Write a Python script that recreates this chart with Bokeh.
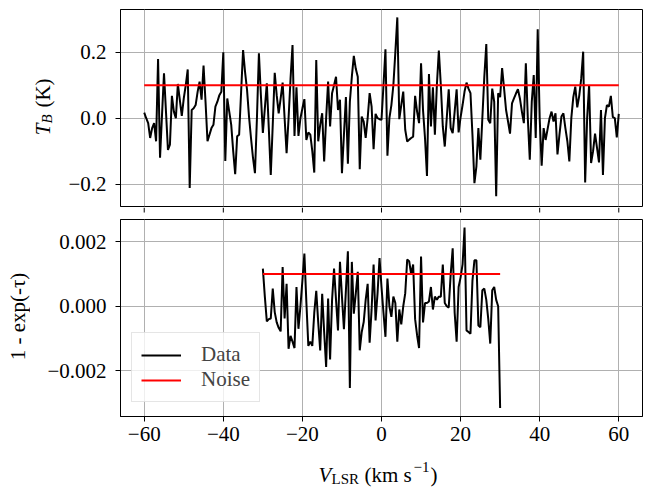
import numpy as np
from bokeh.plotting import figure
from bokeh.layouts import column, row
from bokeh.models import (Range1d, FixedTicker, Label, Legend, LegendItem,
                          CustomJSTickFormatter)
from bokeh.embed import file_html
from bokeh.resources import INLINE

FONT = "Liberation Serif"
FS = "21px"
FS_SMALL = "15px"

# ---------------- data ----------------
tb_values = [
    0.017, 0.0, -0.015, -0.06, -0.03, -0.015, -0.07, 0.18, -0.12, 0.01,
    0.136, 0.02, -0.096, -0.08, 0.068, 0.02, 0.0, 0.104, 0.056, 0.007,
    0.06, 0.1, 0.148, -0.212, 0.025, 0.03, 0.04, 0.08, 0.111, 0.056,
    0.16, 0.05, -0.07, -0.05, -0.03, -0.02, 0.035, 0.05, 0.07, 0.08,
    0.2, -0.13, 0.06, 0.02, -0.02, -0.1, -0.17, -0.055, -0.05, 0.08,
    0.207, 0.14, 0.086, 0.005, -0.06, -0.12, -0.167, 0.0, 0.197, 0.07,
    -0.045, 0.03, 0.106, -0.03, -0.172, -0.02, 0.138, 0.07, 0.015, 0.06,
    0.108, 0.0, -0.106, 0.0, 0.12, 0.222, -0.054, 0.094, -0.054, 0.0,
    0.03, 0.058, -0.066, -0.043, -0.05, -0.1, -0.165, 0.177, -0.07, -0.02,
    0.015, -0.131, 0.0, 0.111, -0.025, 0.076, 0.1, 0.126, 0.025, 0.056,
    -0.167, -0.05, 0.064, -0.138, 0.05, 0.126, 0.189, 0.15, 0.126, -0.155,
    0.005, -0.01, -0.06, 0.0, 0.076, 0.035, -0.094, 0.013, 0.0, -0.003,
    -0.005, 0.1, 0.209, -0.114, 0.0, 0.04, 0.1, 0.2, 0.306, -0.003,
    0.04, 0.081, -0.035, -0.071, -0.065, -0.06, -0.056, 0.068, 0.02, -0.015,
    0.167, 0.025, -0.06, -0.175, 0.134, -0.025, 0.094, -0.05, 0.1, 0.205,
    0.101, -0.025, -0.086, 0.0, 0.088, -0.03, -0.045, 0.02, 0.088, -0.043,
    0.003, 0.04, 0.081, 0.108, 0.09, 0.076, -0.05, -0.197, -0.146, -0.03,
    -0.126, 0.0, 0.126, 0.225, -0.005, -0.015, 0.09, 0.05, -0.237, 0.076,
    0.064, 0.152, 0.09, 0.025, -0.01, -0.047, 0.045, 0.06, 0.075, 0.088,
    0.06, 0.02, -0.015, 0.167, 0.0, -0.126, 0.05, 0.131, -0.06, 0.27,
    0.0, -0.144, -0.03, -0.066, -0.033, 0.0, 0.02, -0.01, 0.015, -0.11,
    -0.05, 0.005, 0.015, -0.03, -0.07, -0.131, 0.0, 0.064, 0.096, 0.033,
    0.068, 0.12, 0.202, -0.195, 0.0, 0.101, -0.136, -0.1, -0.047, -0.09,
    -0.134, 0.025, -0.172, 0.0, 0.04, 0.035, 0.068, 0.003, 0.0, -0.058,
    0.013,
]

tau_values = [
    0.00117, 0.0003, -0.00047, -0.0004, -0.00038, 0.00055, -0.00018, -0.0005, -0.00067, -0.00078,
    0.00122, -0.00038, 0.0007, -0.00132, -0.00092, -0.0011, -0.0013, 0.0006, -0.0007, 0.0,
    0.0008, 0.00164, 0.00013, -0.00123, -0.0011, -0.00123, -0.0002, 0.00048, -0.0005, -0.00137,
    0.00039, -0.0008, -0.00189, 0.00024, -0.00165, 0.0002, 0.00117, 0.0002, -0.00075, 0.00138,
    0.0003, -0.00071, 0.0005, 0.00171, -0.00254, 0.00138, -0.00023, 0.0004, 0.00107, -0.00137,
    -0.0008, -0.00049, 0.0002, 0.0007, -0.00113, -0.00009, 0.0013, -0.00044, 0.0004, 0.0015,
    0.0006, -0.0002, -0.00095, 0.00086, 0.0, -0.00033, 0.0003, 0.0001, -0.0011, -0.0001,
    -0.00056, 0.0, 0.0004, 0.00145, 0.0014, 0.001, 0.0013, -0.0004, -0.0009, -0.0013,
    0.00155, -0.0005, 0.0001, 0.0001, 0.00015, 0.0006, -0.0001, 0.0003, 0.0002, 0.0003,
    0.0003, 0.0013, 0.0001, 0.0, -0.00004, 0.001, 0.0018, -0.0002, -0.0011, 0.0006,
    0.0009, 0.0013, 0.00245, -0.00075, -0.0008, -0.00085, 0.0008, 0.00143, 0.00143, -0.0006,
    -0.00065, 0.0005, 0.00055, 0.0002, -0.0004, -0.00116, 0.0005, 0.0006, 0.0002, 0.0,
    -0.00316,
]

noise_tb = 0.1
noise_tau = 0.001
tb_vmin, tb_vmax = -60, 60
tau_vmin, tau_vmax = -30, 30
x_ticks = [-60, -40, -20, 0, 20, 40, 60]
tb_ticks = [-0.2, 0.0, 0.2]
tau_ticks = [-0.002, 0.0, 0.002]

x_tb = np.linspace(tb_vmin, tb_vmax, len(tb_values))
x_tau = np.linspace(tau_vmin, tau_vmax, len(tau_values))

x_range = Range1d(-66, 66)


def fmt(digits):
    return CustomJSTickFormatter(code=(
        "const s = Math.abs(tick).toFixed(%d);"
        "return (tick < -1e-12 ? '\\u2212' : '') + s;" % digits))


def style_axis(ax):
    ax.axis_line_color = "black"
    ax.axis_line_width = 1
    ax.major_tick_out = 5
    ax.major_tick_in = 0
    ax.major_tick_line_width = 1
    ax.minor_tick_line_color = None
    ax.major_label_text_font = FONT
    ax.major_label_text_font_size = FS
    ax.major_label_text_color = "black"


def style(p, yticks, ydigits):
    p.outline_line_color = "black"
    p.outline_line_width = 1
    style_axis(p.xaxis[0])
    style_axis(p.yaxis[0])
    p.xaxis[0].ticker = FixedTicker(ticks=x_ticks)
    p.xaxis[0].formatter = fmt(0)
    p.xaxis[0].major_label_standoff = 5
    p.yaxis[0].ticker = FixedTicker(ticks=yticks)
    p.yaxis[0].formatter = fmt(ydigits)
    p.yaxis[0].major_label_standoff = 9
    p.xgrid[0].ticker = FixedTicker(ticks=x_ticks)
    p.ygrid[0].ticker = FixedTicker(ticks=yticks)
    for g in (p.xgrid[0], p.ygrid[0]):
        g.grid_line_color = "#b0b0b0"
        g.grid_line_width = 1


def blank(fw, fh, xr, yr, **borders):
    """A bare figure (no axes, no outline) used to hold text labels."""
    b = figure(frame_width=fw, frame_height=fh, x_range=Range1d(*xr), y_range=Range1d(*yr),
               x_axis_type=None, y_axis_type=None, output_backend="svg",
               toolbar_location=None, **borders)
    b.outline_line_color = None
    b.grid.visible = False
    return b


def lab(p, text, x, y, size=FS, fstyle="normal", angle=0.0, align="left",
        baseline="alphabetic"):
    p.add_layout(Label(x=x, y=y, text=text, text_font=FONT, text_font_size=size,
                       text_font_style=fstyle, angle=angle, text_align=align,
                       text_baseline=baseline, text_color="black"))


a = np.pi / 2

# ---------------- upper panel ----------------
top = figure(frame_width=522, frame_height=197, x_range=x_range,
             y_range=Range1d(-0.268, 0.330), output_backend="svg",
             toolbar_location=None, min_border_left=60, min_border_right=9,
             min_border_top=9, min_border_bottom=1)
style(top, tb_ticks, 1)
top.xaxis.visible = False
top.line(x_tb, tb_values, line_color="black", line_width=2)
top.line([tb_vmin, tb_vmax], [noise_tb, noise_tb], line_color="red", line_width=2)

# label column left of the upper panel: data x = image x, data y = 206 - image y
top_lab = blank(60, 197, (0, 60), (0, 197), min_border_left=0, min_border_right=0,
                min_border_top=9, min_border_bottom=1)
lab(top_lab, "T", 42, 206 - 129, fstyle="italic", angle=a, align="center", baseline="middle")
lab(top_lab, "B", 46, 206 - 118.5, size=FS_SMALL, fstyle="italic", angle=a,
    align="center", baseline="middle")
lab(top_lab, "(K)", 42, 206 - 92.5, angle=a, align="center", baseline="middle")

# tick marks of the shared x axis under the upper panel
ticks = figure(frame_width=522, frame_height=12, x_range=x_range, y_range=Range1d(0, 12),
               x_axis_type=None, y_axis_type=None, output_backend="svg",
               toolbar_location=None, min_border_left=120, min_border_right=9,
               min_border_top=0, min_border_bottom=0)
ticks.outline_line_color = None
ticks.grid.visible = False
ticks.segment(x0=x_ticks, y0=[12] * len(x_ticks), x1=x_ticks, y1=[7] * len(x_ticks),
              line_color="black", line_width=1)

# ---------------- lower panel ----------------
bot = figure(frame_width=522, frame_height=197, x_range=x_range,
             y_range=Range1d(-0.003427, 0.002698), output_backend="svg",
             toolbar_location=None, min_border_left=90, min_border_right=9,
             min_border_top=0, min_border_bottom=40)
style(bot, tau_ticks, 3)
r_data = bot.line(x_tau, tau_values, line_color="black", line_width=2)
r_noise = bot.line([tau_vmin, tau_vmax], [noise_tau, noise_tau], line_color="red", line_width=2)

legend = Legend(items=[LegendItem(label="Data", renderers=[r_data]),
                       LegendItem(label="Noise", renderers=[r_noise])],
                location=(11, 14), margin=0, padding=9, spacing=0,
                glyph_width=40, glyph_height=20, label_height=20, label_standoff=20,
                label_text_font=FONT, label_text_font_size=FS,
                border_line_color="#cccccc", border_line_width=1,
                background_fill_alpha=0.8)
bot.add_layout(legend)

# label column left of the lower panel: data y = 416 - image y
bot_lab = blank(30, 197, (0, 30), (0, 197), min_border_left=0, min_border_right=0,
                min_border_top=0, min_border_bottom=40)
lab(bot_lab, "1 - exp(-τ)", 17.5, 416 - 316, angle=a, align="center", baseline="middle")

# x label strip (image y 456..491, frame x 120..642): data x = image x
xl = blank(522, 35, (120, 642), (0, 35), min_border_left=120, min_border_right=9,
           min_border_top=0, min_border_bottom=0)
yb = 491 - 474
lab(xl, "V", 318, yb, fstyle="italic")
lab(xl, "LSR", 331, yb - 4, size=FS_SMALL)
lab(xl, "(km s", 364, yb)
lab(xl, "−1", 413, yb + 8, size=FS_SMALL)
lab(xl, ")", 430, yb)

layout = column(row(top_lab, top), ticks, row(bot_lab, bot), xl, spacing=0)
open("out.html", "w").write(file_html(layout, INLINE))
